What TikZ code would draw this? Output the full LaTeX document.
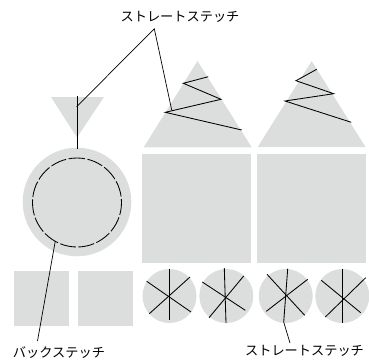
\documentclass[tikz,border=0pt]{standalone}
\usepackage{fontspec}
\newfontfamily\cjk{Noto Sans CJK JP}
\definecolor{pale}{RGB}{220,221,221}
\tikzset{
  fillshape/.style={fill=pale,draw=none},
  stitch/.style={draw=black,line width=0.85pt,line join=miter},
  leader/.style={draw=black,line width=0.7pt},
  lab/.style={inner sep=0pt,font=\cjk\fontsize{13.2}{15}\selectfont}
}
\begin{document}
\begin{tikzpicture}[x=1pt,y=-1pt]
\useasboundingbox (0,0) rectangle (369,360);
% shapes
\fill[fillshape] (51,97) -- (104,97) -- (77,137.5) -- cycle;
\fill[fillshape] (77,202) circle[radius=54.3];
\fill[fillshape] (143.7,147.3) -- (197.5,61) -- (251.7,147.3) -- cycle;
\fill[fillshape] (257.7,147) -- (311.7,61) -- (365.5,147) -- cycle;
\fill[fillshape] (142,153.7) rectangle (251,262.7);
\fill[fillshape] (257,153.7) rectangle (366,262.7);
\fill[fillshape] (14,271) rectangle (69,325.7);
\fill[fillshape] (78,271) rectangle (133,325.7);
\foreach \n/\cx in {p/169.5,q/226.3,r/285.7,s/342.3}{\fill[fillshape] (\cx,296) circle[radius=27];}
% stitches
\draw[stitch] (77,95.5) -- (77,148.5);
\draw[stitch,dash pattern=on 16.1pt off 2.5pt,dash phase=8pt] (77,158) arc[start angle=-90,delta angle=360,radius=44.5];
\draw[stitch] (208.3,76.7) -- (183.3,83.3) -- (221,99.3) -- (165.3,112.3) -- (241.7,130);
\draw[stitch] (316.7,69.3) -- (296,80.7) -- (333.7,93.7) -- (285,101) -- (351.3,122.3);
\draw[stitch] (169.3,268.7) -- (169.3,320.3);
\draw[stitch] (146.7,281.3) -- (191,312);
\draw[stitch] (149.3,313.7) -- (190,277);
\draw[stitch] (224.3,268) -- (226,323);
\draw[stitch] (202.3,282) -- (245.3,310.3);
\draw[stitch] (209,317.7) -- (243.7,276);
\draw[stitch] (287.7,268.7) -- (283.7,322);
\draw[stitch] (267,274.3) -- (304.7,315.3);
\draw[stitch] (266.3,311.3) -- (307.7,279.3);
\draw[stitch] (342.3,268.7) -- (342.3,322.7);
\draw[stitch] (321.3,280.3) -- (360.7,312.7);
\draw[stitch] (325.3,317) -- (365.7,277.7);
% labels
\node[lab] (top) at (180,16.5) {ストレートステッチ};
\node[lab] (back) at (59,352.7) {バックステッチ};
\node[lab] (bot) at (304.5,350.7) {ストレートステッチ};
% leaders
\coordinate (t0) at (154.3,28.7);
\coordinate (t1) at (76.7,106.7);
\coordinate (t2) at (171.7,110);
\draw[leader] (t1) -- (t0) -- (t2);
\coordinate (b1) at (55.3,241);
\coordinate (b2) at (37.5,341);
\draw[leader] (b1) -- (b2);
\coordinate (c1) at (283.7,322);
\coordinate (c2) at (290,343);
\draw[leader] (c1) -- (c2);
\end{tikzpicture}
\end{document}
